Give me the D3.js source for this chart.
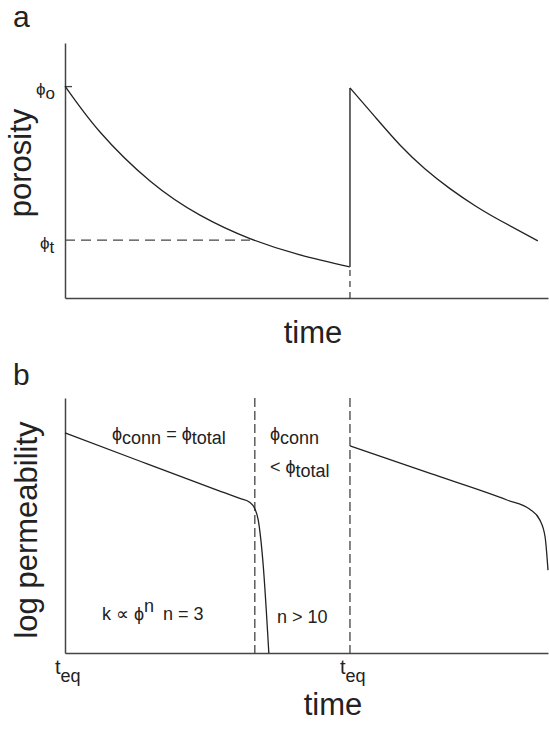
<!DOCTYPE html>
<html>
<head>
<meta charset="utf-8">
<script src="https://cdn.jsdelivr.net/npm/d3@7/dist/d3.min.js"></script>
<style>
  html, body { margin: 0; padding: 0; background: #fff; }
  svg { display: block; }
  text { font-family: "Liberation Sans", Arial, Helvetica, sans-serif; fill: #222; }
</style>
</head>
<body>
<script>
// ---------- DATA ----------
// Panel a: porosity vs time (arbitrary units: time 0-100, porosity 0-1)
const porosityCycle1Time  = [0, 7.25, 17.6, 27.95, 38.3, 48.65, 59.0];
const porosityCycle1Value = [0.831, 0.651, 0.459, 0.325, 0.233, 0.169, 0.122];
const porosityCycle2Time  = [59.0, 64.2, 69.4, 74.5, 79.7, 84.9, 90.1, 97.9];
const porosityCycle2Value = [0.824, 0.710, 0.599, 0.507, 0.429, 0.362, 0.304, 0.224];
const phiO = 0.831;          // initial porosity marker
const phiT = 0.227;          // threshold porosity
const jumpTime = 59.0;       // re-equilibration time
const phiTCrossTime = 38.3;  // where the curve crosses phi_t

// Panel b: log permeability vs time
const permCycle1Time  = [0, 15.7, 31.5, 36.2, 38.3, 39.3, 40.0, 41.0, 42.2];
const permCycle1Value = [0.863, 0.751, 0.639, 0.606, 0.590, 0.566, 0.522, 0.353, 0.0];
const permCycle2Time  = [59.0, 75.6, 91.5, 96.3, 98.3, 99.4, 100];
const permCycle2Value = [0.812, 0.704, 0.600, 0.563, 0.522, 0.455, 0.325];
const connThresholdTime = 39.3;
const teqTimes = [0, 59.0];

// ---------- DRAWING ----------
const W = 549, H = 732;
const svg = d3.select("body").append("svg").attr("width", W).attr("height", H);

const ink = "#222", axisInk = "#444";

function zip(t, v) { return t.map((d, i) => [d, v[i]]); }

// ===== Panel a =====
const xA = d3.scaleLinear().domain([0, 100]).range([65, 548]);
const yA = d3.scaleLinear().domain([0, 1]).range([298, 43]);
const gA = svg.append("g");

const lineA = d3.line().x(d => xA(d[0])).y(d => yA(d[1])).curve(d3.curveNatural);

// axes
gA.append("g").attr("transform", `translate(0,${yA(0)})`)
  .call(d3.axisBottom(xA).tickValues([]).tickSizeOuter(0))
  .call(g => g.select(".domain").attr("stroke", axisInk).attr("stroke-width", 1.5));
gA.append("g").attr("transform", `translate(${xA(0)},0)`)
  .call(d3.axisRight(yA).tickValues([phiO]).tickSize(7).tickSizeOuter(0).tickFormat(""))
  .call(g => g.select(".domain").attr("stroke", axisInk).attr("stroke-width", 1.5))
  .call(g => g.selectAll(".tick line").attr("stroke", axisInk).attr("stroke-width", 1.3));

// dashed phi_t line
gA.append("line")
  .attr("x1", xA(0)).attr("x2", xA(phiTCrossTime))
  .attr("y1", yA(phiT)).attr("y2", yA(phiT))
  .attr("stroke", axisInk).attr("stroke-width", 1.3).attr("stroke-dasharray", "10,6");

// dashed vertical below jump
gA.append("line")
  .attr("x1", xA(jumpTime)).attr("x2", xA(jumpTime))
  .attr("y1", yA(porosityCycle1Value[porosityCycle1Value.length - 1])).attr("y2", yA(0))
  .attr("stroke", axisInk).attr("stroke-width", 1.3).attr("stroke-dasharray", "6,5")
  .attr("stroke-dashoffset", -3);

// curves
gA.append("path").datum(zip(porosityCycle1Time, porosityCycle1Value))
  .attr("d", lineA).attr("fill", "none").attr("stroke", ink).attr("stroke-width", 1.3);
gA.append("line")
  .attr("x1", xA(jumpTime)).attr("x2", xA(jumpTime))
  .attr("y1", yA(porosityCycle1Value[porosityCycle1Value.length - 1]))
  .attr("y2", yA(porosityCycle2Value[0]))
  .attr("stroke", axisInk).attr("stroke-width", 1.6);
gA.append("path").datum(zip(porosityCycle2Time, porosityCycle2Value))
  .attr("d", lineA).attr("fill", "none").attr("stroke", ink).attr("stroke-width", 1.3);

// labels
svg.append("text").attr("x", 13).attr("y", 27).attr("font-size", 30).text("a");
svg.append("text").attr("transform", "translate(31,163) rotate(-90)")
  .attr("text-anchor", "middle").attr("font-size", 31).text("porosity");
svg.append("text").attr("x", 313).attr("y", 343).attr("text-anchor", "middle")
  .attr("font-size", 31).text("time");

function phiLabel(parent, x, y, sub, size, subSize) {
  const t = parent.append("text").attr("x", x).attr("y", y).attr("font-size", size);
  t.append("tspan").text("ϕ");
  t.append("tspan").attr("dy", 4).attr("font-size", subSize).text(sub);
  return t;
}
phiLabel(svg, 36, yA(phiO) + 9, "o", 17, 17);
phiLabel(svg, 40, yA(phiT) + 9, "t", 17, 17);

// ===== Panel b =====
const xB = d3.scaleLinear().domain([0, 100]).range([65, 548]);
const yB = d3.scaleLinear().domain([0, 1]).range([653, 398]);
const gB = svg.append("g");
const lineB = d3.line().x(d => xB(d[0])).y(d => yB(d[1])).curve(d3.curveMonotoneX);

gB.append("g").attr("transform", `translate(0,${yB(0)})`)
  .call(d3.axisBottom(xB).tickValues([]).tickSizeOuter(0))
  .call(g => g.select(".domain").attr("stroke", axisInk).attr("stroke-width", 1.5));
gB.append("g").attr("transform", `translate(${xB(0)},0)`)
  .call(d3.axisLeft(yB).tickValues([]).tickSizeOuter(0))
  .call(g => g.select(".domain").attr("stroke", axisInk).attr("stroke-width", 1.5));

// dashed verticals
[connThresholdTime, teqTimes[1]].forEach(t => {
  gB.append("line")
    .attr("x1", xB(t)).attr("x2", xB(t)).attr("y1", yB(1)).attr("y2", yB(0))
    .attr("stroke", axisInk).attr("stroke-width", 1.3).attr("stroke-dasharray", "9,4");
});

gB.append("path").datum(zip(permCycle1Time, permCycle1Value))
  .attr("d", lineB).attr("fill", "none").attr("stroke", ink).attr("stroke-width", 1.3);
gB.append("path").datum(zip(permCycle2Time, permCycle2Value))
  .attr("d", lineB).attr("fill", "none").attr("stroke", ink).attr("stroke-width", 1.3);

// labels
svg.append("text").attr("x", 13).attr("y", 385).attr("font-size", 30).text("b");
svg.append("text").attr("transform", "translate(37,530) rotate(-90)")
  .attr("text-anchor", "middle").attr("font-size", 31).text("log permeability");
svg.append("text").attr("x", 333).attr("y", 715).attr("text-anchor", "middle")
  .attr("font-size", 31).text("time");

// t_eq tick labels
teqTimes.forEach(t => {
  const lbl = svg.append("text").attr("x", xB(t) - 10).attr("y", 674).attr("font-size", 20);
  lbl.append("tspan").text("t");
  lbl.append("tspan").attr("dy", 8).attr("font-size", 18).text("eq");
});

// annotations
const ann1 = svg.append("text").attr("x", 112).attr("y", 440).attr("font-size", 18);
ann1.append("tspan").text("ϕ");
ann1.append("tspan").attr("dy", 4).text("conn");
ann1.append("tspan").attr("dy", -4).text(" = ϕ");
ann1.append("tspan").attr("dy", 4).text("total");

const ann2 = svg.append("text").attr("x", 270).attr("y", 440).attr("font-size", 18);
ann2.append("tspan").text("ϕ");
ann2.append("tspan").attr("dy", 4).text("conn");
const ann3 = svg.append("text").attr("x", 270).attr("y", 473).attr("font-size", 18);
ann3.append("tspan").text("< ϕ");
ann3.append("tspan").attr("dy", 4).text("total");

const ann4 = svg.append("text").attr("x", 102).attr("y", 620).attr("font-size", 18);
ann4.append("tspan").text("k ∝ ϕ");
ann4.append("tspan").attr("dy", -8).text("n");
svg.append("text").attr("x", 163).attr("y", 620).attr("font-size", 18).text("n = 3");

svg.append("text").attr("x", 277).attr("y", 623).attr("font-size", 18).text("n > 10");
</script>
</body>
</html>
